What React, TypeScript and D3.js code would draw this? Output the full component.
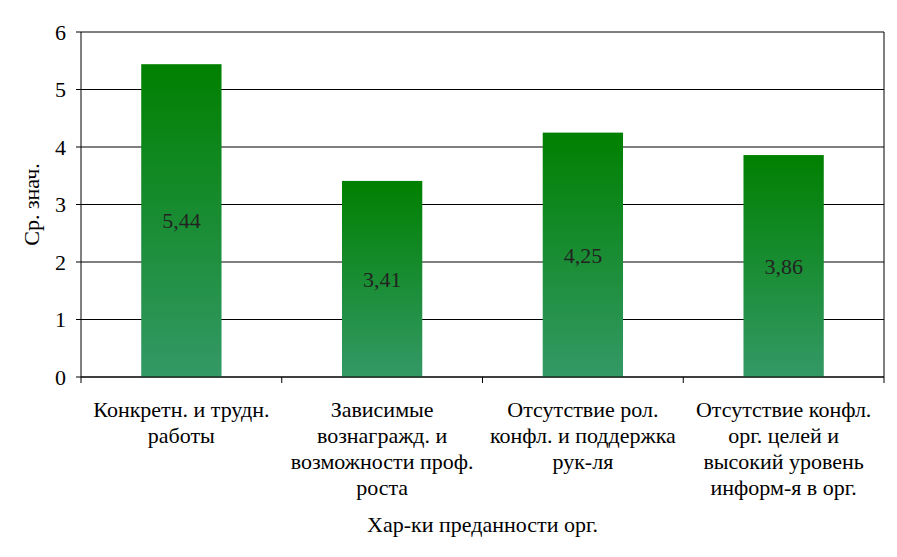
import React from "react";
import * as d3 from "d3";

const categories: string[][] = [
  ["Конкретн. и трудн.", "работы"],
  ["Зависимые", "вознагражд. и", "возможности проф.", "роста"],
  ["Отсутствие рол.", "конфл. и поддержка", "рук-ля"],
  ["Отсутствие конфл.", "орг. целей и", "высокий уровень", "информ-я в орг."],
];
const values: number[] = [5.44, 3.41, 4.25, 3.86];
const valueLabels: string[] = ["5,44", "3,41", "4,25", "3,86"];
const yTicks: number[] = [0, 1, 2, 3, 4, 5, 6];
const yTitle = "Ср. знач.";
const xTitle = "Хар-ки преданности орг.";

const W = 897;
const H = 557;
const left = 81;
const right = 884;
const top = 32;
const bottom = 377;
const FF = "'Liberation Serif'";
const FS = 22;

export default function App() {
  const x = d3
    .scaleBand<number>()
    .domain(values.map((_, i) => i))
    .range([left, right])
    .paddingInner(0.6)
    .paddingOuter(0.3);
  const cat = d3.scaleBand<number>().domain(values.map((_, i) => i)).range([left, right]);
  const y = d3.scaleLinear().domain([0, 6]).range([bottom, top]);

  return (
    <svg width={W} height={H} style={{ position: "absolute", left: 0, top: 0 }}>
      <defs>
        <linearGradient id="barGrad" x1="0" y1="0" x2="0" y2="1">
          <stop offset="0%" stopColor="#008000" />
          <stop offset="100%" stopColor="#339966" />
        </linearGradient>
      </defs>
      <rect x={0} y={0} width={W} height={H} fill="#fff" />
      {yTicks.map((t) => (
        <g key={t}>
          <line x1={left - 5} x2={right} y1={y(t)} y2={y(t)} stroke="#000" strokeWidth={1} />
          <text
            x={left - 15}
            y={y(t)}
            dy="0.35em"
            textAnchor="end"
            fontSize={FS}
            style={{ fontFamily: FF }}
            fill="#000"
          >
            {t}
          </text>
        </g>
      ))}
      {values.map((v, i) => (
        <g key={i}>
          <rect
            x={x(i)!}
            y={y(v)}
            width={x.bandwidth()}
            height={y(0) - y(v)}
            fill="url(#barGrad)"
          />
          <text
            x={x(i)! + x.bandwidth() / 2}
            y={(y(v) + y(0)) / 2}
            dy="0.35em"
            textAnchor="middle"
            fontSize={FS}
            style={{ fontFamily: FF }}
            fill="#222"
          >
            {valueLabels[i]}
          </text>
        </g>
      ))}
      <line x1={left} x2={left} y1={top} y2={bottom} stroke="#000" />
      <line x1={right} x2={right} y1={top} y2={bottom + 6} stroke="#000" />
      <line x1={left} x2={right} y1={bottom} y2={bottom} stroke="#000" />
      {values.map((_, i) => (
        <line
          key={i}
          x1={cat(i)!}
          x2={cat(i)!}
          y1={bottom}
          y2={bottom + 6}
          stroke="#000"
        />
      ))}
      {categories.map((lines, i) => (
        <text
          key={i}
          x={cat(i)! + cat.bandwidth() / 2}
          y={417}
          textAnchor="middle"
          fontSize={FS}
          style={{ fontFamily: FF }}
          fill="#000"
        >
          {lines.map((l, j) => (
            <tspan key={j} x={cat(i)! + cat.bandwidth() / 2} dy={j === 0 ? 0 : 26}>
              {l}
            </tspan>
          ))}
        </text>
      ))}
      <text
        x={(left + right) / 2}
        y={532}
        textAnchor="middle"
        fontSize={FS}
        style={{ fontFamily: FF }}
        fill="#000"
      >
        {xTitle}
      </text>
      <text
        transform={`translate(39, ${(top + bottom) / 2}) rotate(-90)`}
        textAnchor="middle"
        fontSize={FS}
        style={{ fontFamily: FF }}
        fill="#000"
      >
        {yTitle}
      </text>
    </svg>
  );
}
